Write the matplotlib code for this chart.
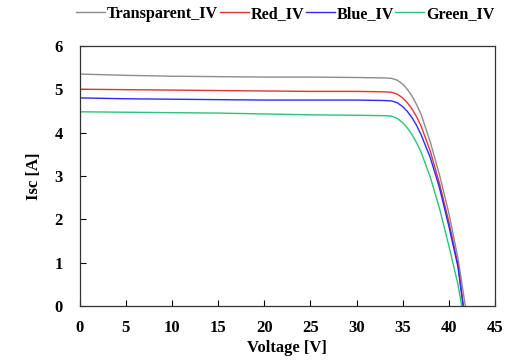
import numpy as np
import matplotlib
matplotlib.use("Agg")
import matplotlib.pyplot as plt

plt.rcParams['font.family'] = ['Liberation Serif', 'DejaVu Serif']
plt.rcParams['font.weight'] = 'bold'

# IV curve points
v_transparent = [0, 5, 10, 15, 20, 25, 30, 33, 33.8, 34.4, 35, 35.5, 36, 36.5, 37, 38, 39, 40, 41, 41.8]
i_transparent = [5.35, 5.32, 5.30, 5.29, 5.28, 5.28, 5.27, 5.26, 5.25, 5.21, 5.12, 5.00, 4.85, 4.65, 4.42, 3.78, 3.02, 2.15, 1.10, 0.0]

v_red = [0, 5, 10, 15, 20, 25, 30, 33, 33.8, 34.4, 35, 35.5, 36, 36.5, 37, 38, 39, 40, 41, 41.6]
i_red = [5.00, 4.99, 4.98, 4.97, 4.96, 4.95, 4.95, 4.94, 4.93, 4.89, 4.80, 4.69, 4.55, 4.37, 4.15, 3.57, 2.82, 1.95, 0.95, 0.0]

v_blue = [0, 5, 10, 15, 20, 25, 30, 33, 33.8, 34.4, 35, 35.5, 36, 36.5, 37, 38, 39, 40, 41, 41.55]
i_blue = [4.80, 4.78, 4.77, 4.76, 4.75, 4.75, 4.75, 4.74, 4.73, 4.69, 4.60, 4.49, 4.35, 4.17, 3.95, 3.42, 2.72, 1.85, 0.90, 0.0]

v_green = [0, 5, 10, 15, 20, 25, 30, 33, 33.8, 34.4, 35, 35.5, 36, 36.5, 37, 38, 39, 40, 41, 41.4]
i_green = [4.48, 4.47, 4.46, 4.45, 4.43, 4.41, 4.40, 4.39, 4.38, 4.33, 4.23, 4.11, 3.96, 3.77, 3.55, 2.97, 2.25, 1.40, 0.50, 0.0]

fig = plt.figure(figsize=(5.05, 3.61), dpi=100)
ax = fig.add_axes([0.158, 0.152, 0.822, 0.721])

ax.plot(v_transparent, i_transparent, color='#8c8c8c', lw=1.0, label='Transparent_IV')
ax.plot(v_red, i_red, color='#e03535', lw=1.0, label='Red_IV')
ax.plot(v_blue, i_blue, color='#2a2aff', lw=1.0, label='Blue_IV')
ax.plot(v_green, i_green, color='#2ec27a', lw=1.0, label='Green_IV')

ax.set_xlim(0, 45)
ax.set_ylim(0, 6)
ax.set_xticks(np.arange(0, 46, 5))
ax.set_yticks(np.arange(0, 7, 1))
ax.tick_params(direction='in', length=4, width=0.8, labelsize=12)
ax.tick_params(axis='x', pad=10)
ax.tick_params(axis='y', pad=12)
for lab in ax.get_xticklabels() + ax.get_yticklabels():
    lab.set_fontweight('bold')
for s in ax.spines.values():
    s.set_linewidth(0.9)
    s.set_color('#333333')

ax.set_xlabel('Voltage [V]', fontsize=12, fontweight='bold', labelpad=3)
ax.set_ylabel('Isc [A]', fontsize=12, fontweight='bold', labelpad=9)

fig.legend(loc='center', bbox_to_anchor=(0.565, 0.962), ncol=4, frameon=False,
           handlelength=1.8, handletextpad=0.1, columnspacing=0.1,
           prop={'size': 11.6, 'weight': 'bold'})

fig.savefig('out.png', dpi=100)
